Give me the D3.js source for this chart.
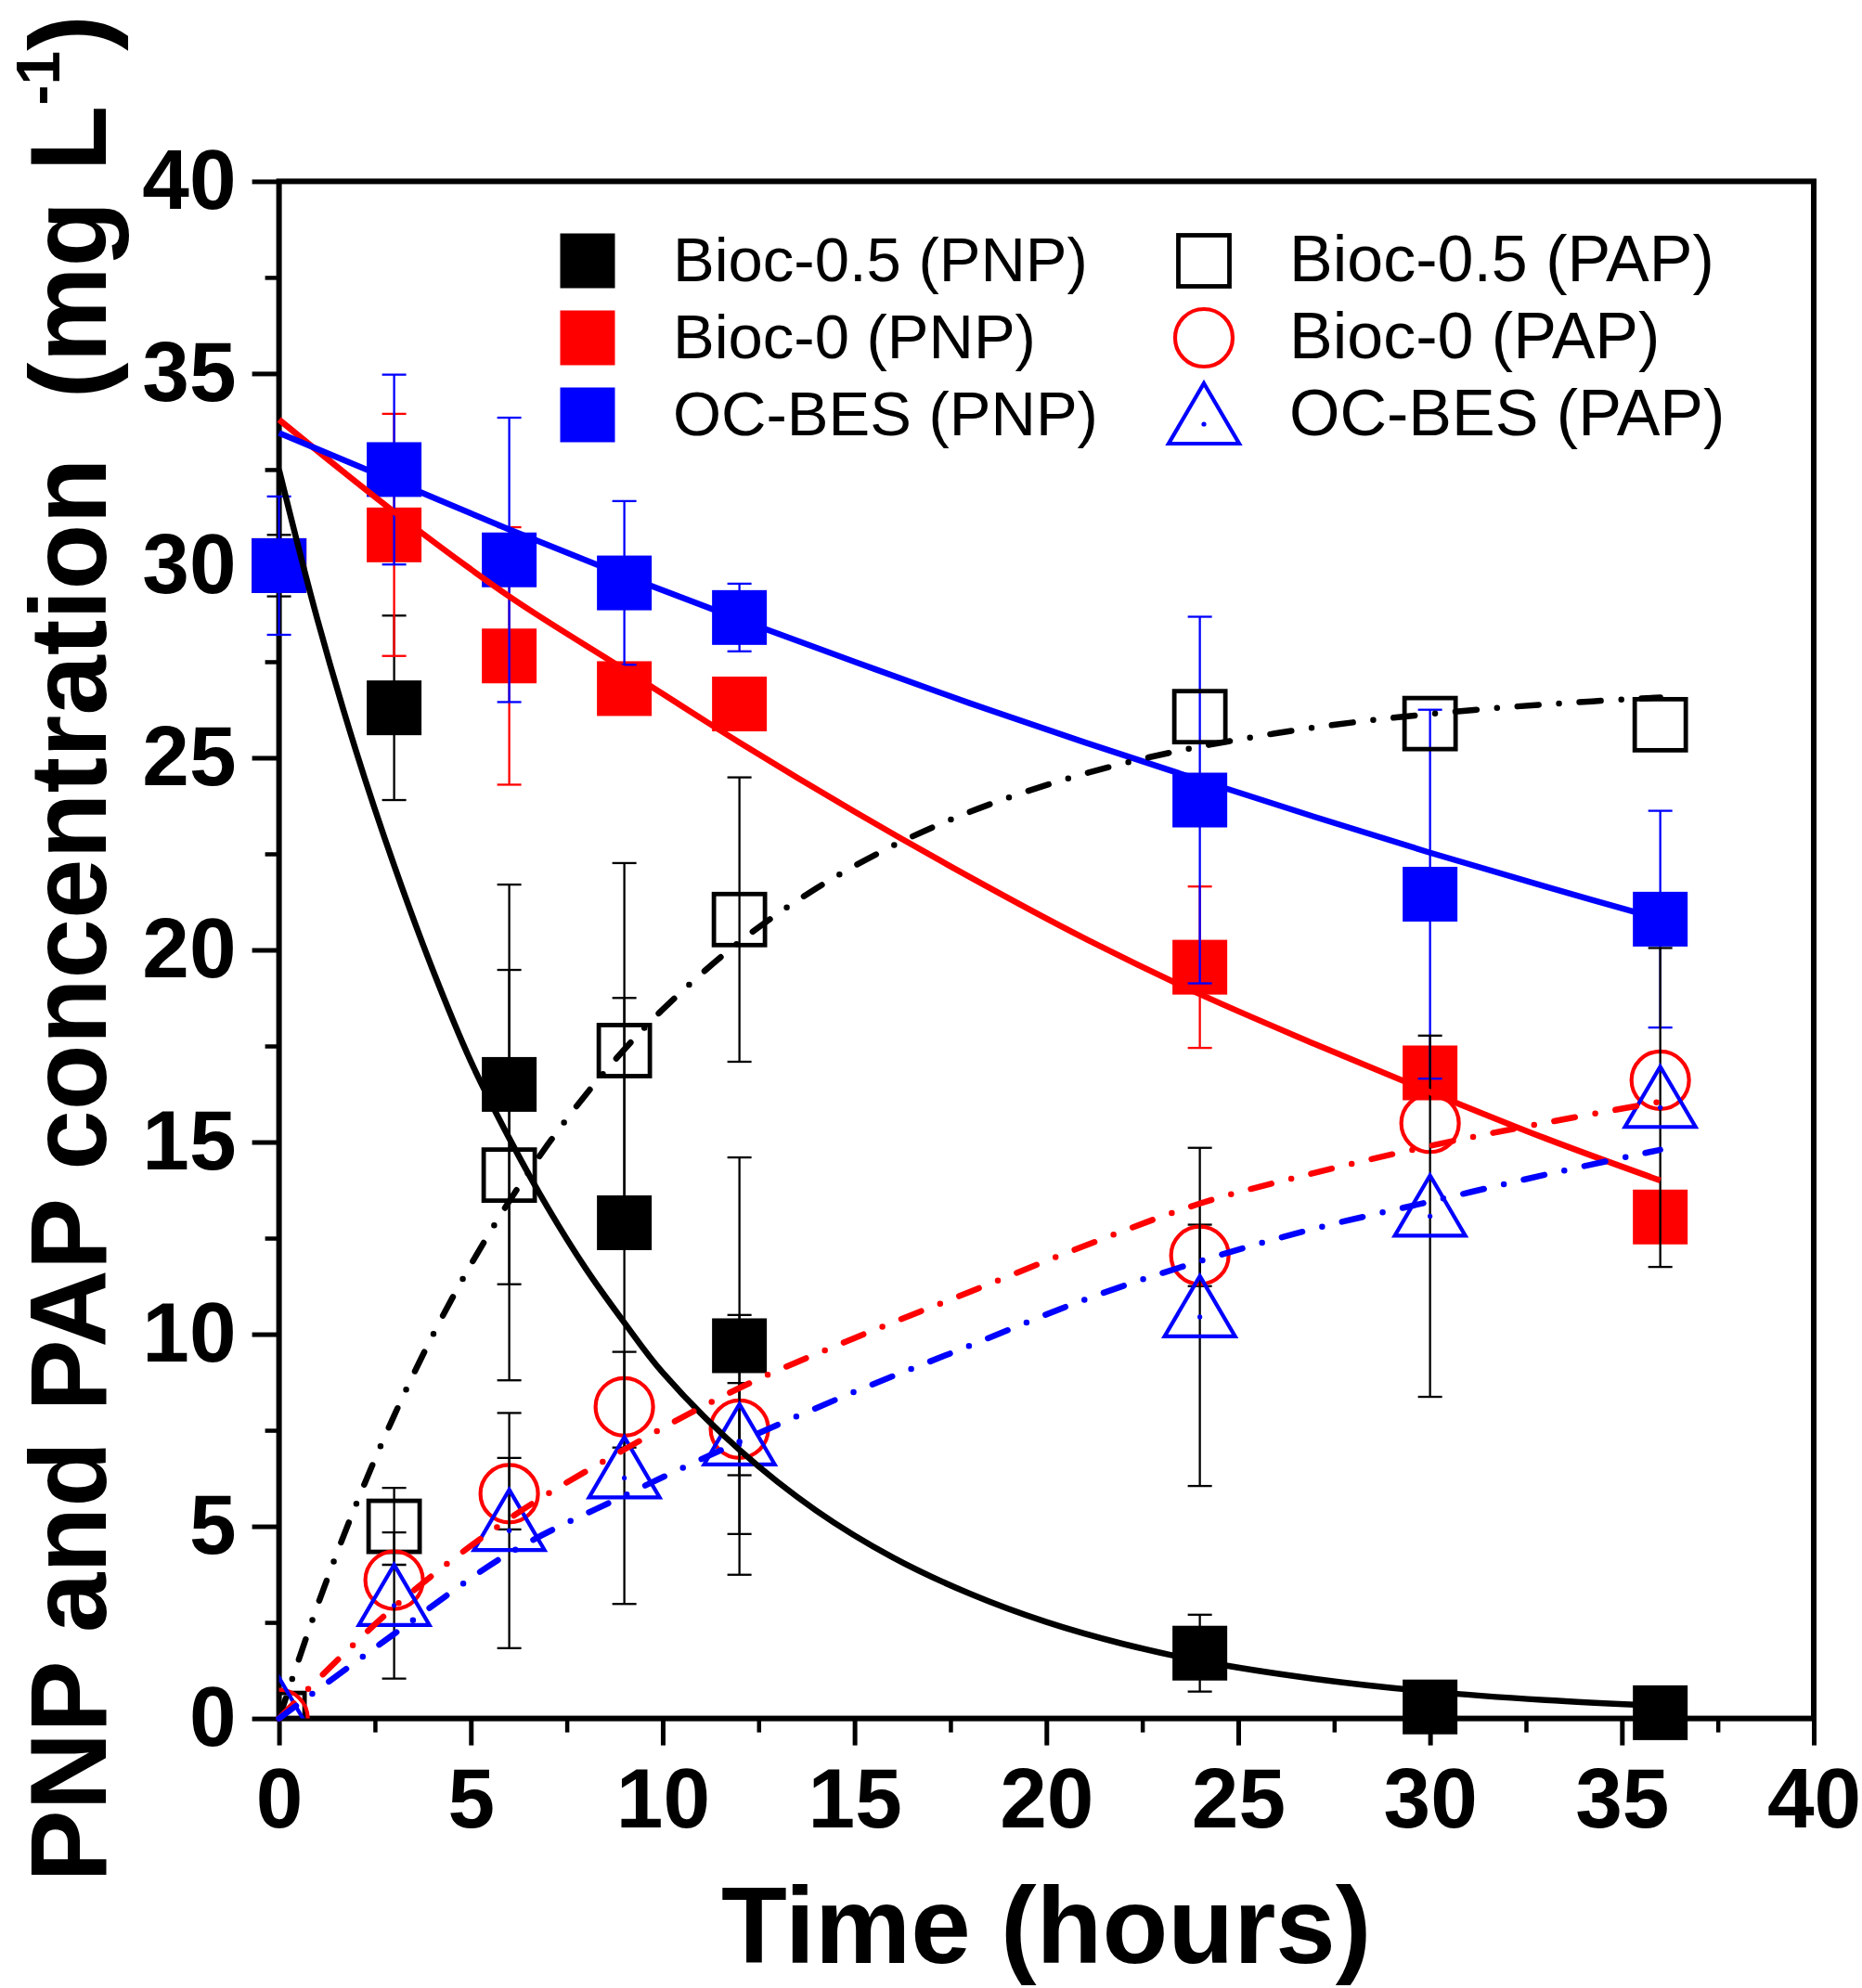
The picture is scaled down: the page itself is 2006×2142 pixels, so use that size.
<!DOCTYPE html>
<html>
<head>
<meta charset="utf-8">
<script src="https://cdn.jsdelivr.net/npm/d3@7"></script>
<style>
html,body{margin:0;padding:0;background:#ffffff;}
svg{display:block;}
text{font-family:"Liberation Sans",Arial,Helvetica,sans-serif;}
</style>
</head>
<body>
<svg id="chart" width="2006" height="2142"></svg>
<script>
// ---------------- data ----------------
const times = [0, 3, 6, 9, 12, 24, 30, 36];

const pnpBioc05     = [30.0, 26.3, 16.5, 12.9, 9.7, 1.7, 0.3, 0.15];
const pnpBioc05Err  = [0.8, 2.4, 5.2, 5.85, 4.9, 1.0, 0, 0];
const pnpBioc0      = [30.0, 30.8, 27.65, 26.8, 26.4, 19.55, 16.8, 13.05];
const pnpBioc0Err   = [0, 3.15, 3.35, 0, 0, 2.1, 0, 0];
const pnpOCBES      = [30.0, 32.5, 30.15, 29.55, 28.65, 23.9, 21.45, 20.8];
const pnpOCBESErr   = [1.8, 2.47, 3.7, 2.13, 0.88, 4.77, 4.8, 2.82];

const papBioc05     = [0, 5.0, 14.14, 17.38, 20.79, 26.07, 25.89, 25.86];
const papBioc05Err  = [0, 1.0, 5.34, 4.88, 3.7, 0, 0, 0];
const papBioc0      = [0, 3.6, 5.85, 8.11, 7.53, 12.05, 15.49, 16.61];
const papBioc0Err   = [0, 0, 0.93, 0, 1.2, 0.8, 0, 0];
const papOCBES      = [0, 2.94, 4.89, 6.26, 7.12, 10.45, 13.07, 15.9];
const papOCBESErr   = [0, 1.9, 3.06, 3.28, 3.38, 4.4, 4.7, 4.15];

// fitted curves
const fitTimesFine   = [0,1,2,3,4,5,6,7,8,9,10,12,14,16,18,20,22,24,27,30,33,36];
const fitBioc05PNP   = [32.5,28.6,25.2,22.2,19.5,17.1,15.1,13.3,11.7,10.3,9.0,6.99,5.41,4.19,3.25,2.51,1.94,1.5,1.03,0.70,0.48,0.33];
const fitBioc05PAP   = [0,2.93,5.55,7.88,9.96,11.81,13.46,14.93,16.24,17.41,18.45,20.21,21.60,22.71,23.59,24.29,24.85,25.29,25.79,26.14,26.39,26.57];
const fitTimesCoarse = [0,3,6,9,12,15,18,21,24,27,30,33,36];
const fitBioc0PNP    = [33.8,31.4,29.2,27.3,25.4,23.6,21.9,20.3,18.85,17.55,16.3,15.1,14.0];
const fitOCBESPNP    = [33.45,32.2,30.94,29.74,28.6,27.5,26.42,25.4,24.42,23.46,22.53,21.65,20.8];
const fitBioc0PAP    = [0,2.9,5.2,7.0,8.6,9.9,11.1,12.3,13.4,14.2,14.9,15.5,16.05];
const fitOCBESPAP    = [0,2.2,4.3,5.8,7.2,8.5,9.7,10.9,11.9,12.75,13.45,14.15,14.8];

const xMajor = [0, 5, 10, 15, 20, 25, 30, 35, 40];
const xMinor = [2.5, 7.5, 12.5, 17.5, 22.5, 27.5, 32.5, 37.5];
const yMajor = [0, 5, 10, 15, 20, 25, 30, 35, 40];
const yMinor = [2.5, 7.5, 12.5, 17.5, 22.5, 27.5, 32.5, 37.5];

const legendLabels = ["Bioc-0.5 (PNP)", "Bioc-0 (PNP)", "OC-BES (PNP)",
                      "Bioc-0.5 (PAP)", "Bioc-0 (PAP)", "OC-BES (PAP)"];
const xTitle = "Time (hours)";
const yTitleMain = "PNP and PAP concentration  (mg L";
const yTitleSup = "-1";
const yTitleEnd = ")";

// ---------------- layout ----------------
const L = 300.6, R = 1954, T = 195.4, B = 1851.6;
const BLACK = "#000000", RED = "#ff0000", BLUE = "#0000ff";

const x = d3.scaleLinear().domain([0, 40]).range([L, R]);
const y = d3.scaleLinear().domain([0, 40]).range([B, T]);

const svg = d3.select("#chart");
svg.append("rect").attr("width", 2006).attr("height", 2142).attr("fill", "#fff");

svg.append("defs").append("clipPath").attr("id", "plotclip")
  .append("rect").attr("x", L).attr("y", T).attr("width", R - L).attr("height", B - T);

// frame
svg.append("rect").attr("x", L).attr("y", T).attr("width", R - L).attr("height", B - T)
  .attr("fill", "none").attr("stroke", BLACK).attr("stroke-width", 6);

// axes
function styleAxis(g, width) {
  g.select(".domain").remove();
  g.selectAll(".tick line").attr("stroke", BLACK).attr("stroke-width", width);
  g.attr("font-family", null).attr("font-size", null);
  g.selectAll(".tick text").attr("fill", BLACK).attr("font-size", 91).attr("font-weight", "bold")
    .style("font-family", "'Liberation Sans', Arial, sans-serif");
}
const yAxisG = svg.append("g").attr("transform", `translate(${L},0)`)
  .call(d3.axisLeft(y).tickValues(yMajor).tickSize(29).tickPadding(17).tickFormat(d3.format("d")));
styleAxis(yAxisG, 5);
const yMinorG = svg.append("g").attr("transform", `translate(${L},0)`)
  .call(d3.axisLeft(y).tickValues(yMinor).tickSize(15).tickFormat(""));
styleAxis(yMinorG, 4.5);
const xAxisG = svg.append("g").attr("transform", `translate(0,${B})`)
  .call(d3.axisBottom(x).tickValues(xMajor).tickSize(29).tickPadding(24).tickFormat(d3.format("d")));
styleAxis(xAxisG, 5);
const xMinorG = svg.append("g").attr("transform", `translate(0,${B})`)
  .call(d3.axisBottom(x).tickValues(xMinor).tickSize(15).tickFormat(""));
styleAxis(xMinorG, 4.5);

// axis titles
svg.append("text").attr("x", (L + R) / 2).attr("y", 2115)
  .attr("text-anchor", "middle").attr("font-size", 116).attr("font-weight", "bold")
  .attr("fill", BLACK).text(xTitle);

const yt = svg.append("text").attr("transform", "translate(114,1022) rotate(-90)")
  .attr("text-anchor", "middle").attr("font-size", 116).attr("font-weight", "bold")
  .attr("fill", BLACK).style("white-space", "pre");
yt.append("tspan").text(yTitleMain);
yt.append("tspan").attr("font-size", 66).attr("dy", -50).text(yTitleSup);
yt.append("tspan").attr("dy", 50).text(yTitleEnd);

// ---------------- series ----------------
const series = [
  {label: legendLabels[0], v: pnpBioc05, e: pnpBioc05Err, color: BLACK, errColor: BLACK, shape: "sqFill", clip: false},
  {label: legendLabels[1], v: pnpBioc0,  e: pnpBioc0Err,  color: RED,   errColor: RED,   shape: "sqFill", clip: false},
  {label: legendLabels[2], v: pnpOCBES,  e: pnpOCBESErr,  color: BLUE,  errColor: BLUE,  shape: "sqFill", clip: false},
  {label: legendLabels[3], v: papBioc05, e: papBioc05Err, color: BLACK, errColor: BLACK, shape: "sqOpen", clip: true},
  {label: legendLabels[4], v: papBioc0,  e: papBioc0Err,  color: RED,   errColor: BLACK, shape: "circle", clip: true},
  {label: legendLabels[5], v: papOCBES,  e: papOCBESErr,  color: BLUE,  errColor: BLACK, shape: "tri",    clip: true}
];

function marker(g, shape, cx, cy, color) {
  if (shape === "sqFill") {
    g.append("rect").attr("x", cx - 29.5).attr("y", cy - 29.5).attr("width", 59).attr("height", 59)
      .attr("fill", color);
  } else if (shape === "sqOpen") {
    g.append("rect").attr("x", cx - 27.5).attr("y", cy - 27.5).attr("width", 55).attr("height", 55)
      .attr("fill", "none").attr("stroke", color).attr("stroke-width", 4.8);
  } else if (shape === "circle") {
    g.append("circle").attr("cx", cx).attr("cy", cy).attr("r", 31)
      .attr("fill", "none").attr("stroke", color).attr("stroke-width", 4.2);
  } else if (shape === "tri") {
    g.append("path").attr("d", `M${cx},${cy - 44}L${cx + 38},${cy + 21}L${cx - 38},${cy + 21}Z`)
      .attr("fill", "none").attr("stroke", color).attr("stroke-width", 4.2).attr("stroke-linejoin", "miter");
    g.append("circle").attr("cx", cx).attr("cy", cy).attr("r", 2.6).attr("fill", color);
  }
}

series.forEach(s => {
  const g = svg.append("g");
  if (s.clip) g.attr("clip-path", "url(#plotclip)");
  times.forEach((t, i) => {
    const err = s.e[i];
    if (err > 0) {
      const cx = x(t), y1 = y(s.v[i] + err), y2 = y(s.v[i] - err);
      g.append("line").attr("x1", cx).attr("x2", cx).attr("y1", y1).attr("y2", y2)
        .attr("stroke", s.errColor).attr("stroke-width", 2.3);
      [y1, y2].forEach(yy => g.append("line").attr("x1", cx - 13).attr("x2", cx + 13)
        .attr("y1", yy).attr("y2", yy).attr("stroke", s.errColor).attr("stroke-width", 2.3));
    }
  });
  times.forEach((t, i) => marker(g, s.shape, x(t), y(s.v[i]), s.color));
});

// ---------------- fitted curves ----------------
const fits = [
  {t: fitTimesFine,   v: fitBioc05PNP, color: BLACK, dash: null},
  {t: fitTimesCoarse, v: fitBioc0PNP,  color: RED,   dash: null},
  {t: fitTimesCoarse, v: fitOCBESPNP,  color: BLUE,  dash: null},
  {t: fitTimesFine,   v: fitBioc05PAP, color: BLACK, dash: "23 22 0 22"},
  {t: fitTimesCoarse, v: fitBioc0PAP,  color: RED,   dash: "23 22 0 22"},
  {t: fitTimesCoarse, v: fitOCBESPAP,  color: BLUE,  dash: "23 22 0 22"}
];
const lineGen = d3.line().x(d => x(d[0])).y(d => y(d[1])).curve(d3.curveCatmullRom.alpha(0.5));
fits.forEach(f => {
  const p = svg.append("path").datum(f.t.map((t, i) => [t, f.v[i]]))
    .attr("d", lineGen).attr("fill", "none").attr("stroke", f.color);
  if (f.dash) {
    p.attr("stroke-width", 6.5).attr("stroke-dasharray", f.dash).attr("stroke-linecap", "round");
  } else {
    p.attr("stroke-width", 6.5);
  }
});

// ---------------- legend ----------------
const legCols = [633, 1297];
const legTextX = [725, 1389];
const legFont = [67, 70];
const legRows = [281, 364, 447];
series.forEach((s, i) => {
  const col = Math.floor(i / 3), row = i % 3;
  const g = svg.append("g");
  const cy = (s.shape === "tri") ? legRows[row] + 10 : legRows[row];
  marker(g, s.shape, legCols[col], cy, s.color);
  g.append("text").attr("x", legTextX[col]).attr("y", legRows[row] + 22)
    .attr("font-size", legFont[col]).attr("fill", BLACK).text(s.label);
});
</script>
</body>
</html>
